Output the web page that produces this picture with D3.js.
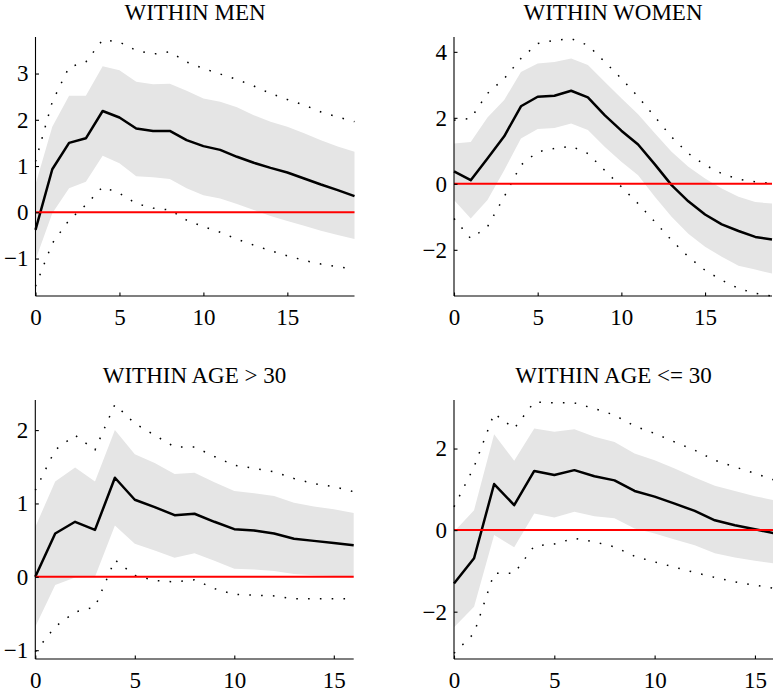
<!DOCTYPE html>
<html lang="en">
<head>
    <meta charset="UTF-8">
    <title>Impulse responses within groups</title>
    <script src="https://d3js.org/d3.v7.min.js"></script>
    <style>
        body {
            margin: 0;
            background: #ffffff;
        }
        svg {
            display: block;
        }
        svg text {
            font-family: "Liberation Serif", "Times New Roman", Times, serif;
            fill: #000;
        }
        .domain, .tick line {
            stroke: #000;
            stroke-width: 1.1;
        }
    </style>
</head>
<body>
    <svg id="chart" width="773" height="692"></svg>

    <script>
        // WITHIN MEN, horizons 0..19
        const menMid   = [-0.38, 0.93, 1.50, 1.60, 2.19, 2.05, 1.81, 1.76, 1.76, 1.56, 1.43, 1.35, 1.20, 1.07, 0.96, 0.86, 0.73, 0.60, 0.48, 0.35];
        const menBandHi = [0.60, 1.85, 2.52, 2.52, 3.16, 3.07, 2.82, 2.77, 2.78, 2.63, 2.46, 2.39, 2.27, 2.10, 1.96, 1.85, 1.71, 1.56, 1.42, 1.31];
        const menBandLo = [-1.03, -0.02, 0.52, 0.66, 1.22, 1.06, 0.78, 0.76, 0.72, 0.52, 0.37, 0.30, 0.18, 0.05, -0.08, -0.19, -0.29, -0.40, -0.49, -0.58];
        const menDotHi = [1.10, 2.39, 3.14, 3.25, 3.73, 3.68, 3.50, 3.42, 3.47, 3.25, 3.11, 2.99, 2.87, 2.73, 2.57, 2.44, 2.32, 2.17, 2.06, 1.96];
        const menDotLo = [-1.60, -0.67, -0.17, 0.16, 0.55, 0.41, 0.19, 0.09, 0.05, -0.17, -0.31, -0.43, -0.58, -0.71, -0.83, -0.94, -1.04, -1.12, -1.18, -1.22];

        // WITHIN WOMEN, horizons 0..19
        const womenMid   = [0.38, 0.11, 0.77, 1.44, 2.35, 2.64, 2.67, 2.82, 2.62, 2.08, 1.61, 1.19, 0.59, -0.04, -0.53, -0.93, -1.23, -1.43, -1.61, -1.69];
        const womenBandHi = [1.22, 1.27, 2.01, 2.54, 3.39, 3.65, 3.69, 3.80, 3.60, 3.09, 2.59, 2.11, 1.53, 0.97, 0.52, 0.16, -0.14, -0.39, -0.55, -0.60];
        const womenBandLo = [-0.49, -1.05, -0.49, 0.41, 1.37, 1.66, 1.69, 1.83, 1.63, 1.12, 0.67, 0.26, -0.39, -1.00, -1.51, -1.91, -2.21, -2.48, -2.60, -2.72];
        const womenDotHi = [1.93, 1.98, 2.74, 3.19, 3.80, 4.25, 4.35, 4.40, 4.20, 3.70, 3.19, 2.64, 2.03, 1.42, 0.92, 0.57, 0.31, 0.14, 0.06, 0.01];
        const womenDotLo = [-1.05, -1.66, -1.30, -0.39, 0.57, 0.97, 1.07, 1.14, 0.92, 0.41, -0.09, -0.60, -1.15, -1.71, -2.21, -2.62, -2.92, -3.17, -3.32, -3.40];

        // WITHIN AGE > 30, horizons 0..16
        const olderMid   = [0.00, 0.59, 0.75, 0.64, 1.35, 1.05, 0.95, 0.84, 0.86, 0.75, 0.65, 0.63, 0.59, 0.52, 0.49, 0.46, 0.43];
        const olderBandHi = [0.68, 1.30, 1.49, 1.30, 2.00, 1.67, 1.55, 1.40, 1.42, 1.29, 1.17, 1.14, 1.10, 1.01, 0.96, 0.92, 0.87];
        const olderBandLo = [-0.68, -0.11, -0.01, 0.00, 0.70, 0.45, 0.36, 0.26, 0.32, 0.22, 0.11, 0.10, 0.08, 0.04, 0.02, 0.01, -0.01];
        const olderDotHi = [1.18, 1.73, 1.93, 1.73, 2.35, 2.09, 1.93, 1.77, 1.77, 1.64, 1.52, 1.48, 1.43, 1.34, 1.27, 1.23, 1.16];
        const olderDotLo = [-1.02, -0.68, -0.48, -0.41, 0.23, 0.02, -0.05, -0.07, -0.04, -0.16, -0.24, -0.25, -0.26, -0.30, -0.30, -0.30, -0.30];

        // WITHIN AGE <= 30, horizons 0..16
        const youngMid   = [-1.31, -0.69, 1.13, 0.61, 1.45, 1.35, 1.47, 1.32, 1.22, 0.96, 0.82, 0.65, 0.47, 0.24, 0.12, 0.02, -0.08];
        const youngBandHi = [-0.04, 0.49, 2.35, 1.70, 2.49, 2.41, 2.47, 2.29, 2.16, 1.88, 1.71, 1.51, 1.29, 1.09, 0.96, 0.83, 0.73];
        const youngBandLo = [-2.38, -1.88, -0.12, -0.42, 0.41, 0.31, 0.45, 0.34, 0.29, 0.04, -0.08, -0.23, -0.37, -0.57, -0.67, -0.75, -0.82];
        const youngDotHi = [0.57, 1.55, 2.86, 2.49, 3.14, 3.12, 3.12, 2.98, 2.82, 2.55, 2.37, 2.16, 1.96, 1.71, 1.55, 1.39, 1.22];
        const youngDotLo = [-3.02, -2.53, -1.06, -1.06, -0.39, -0.34, -0.20, -0.29, -0.41, -0.64, -0.78, -0.91, -1.04, -1.16, -1.27, -1.35, -1.43];

        const titles = ["WITHIN MEN", "WITHIN WOMEN", "WITHIN AGE > 30", "WITHIN AGE <= 30"];
        const yTicks = [[-1, 0, 1, 2, 3], [-2, 0, 2, 4], [-1, 0, 1, 2], [-2, 0, 2]];
        const xTicks = [0, 5, 10, 15];

        const panels = [
            { title: titles[0], mid: menMid, hi: menBandHi, lo: menBandLo, dhi: menDotHi, dlo: menDotLo,
              xMax: 19, yDom: [-1.81, 3.79], left: 35.5, right: 354.5, top: 37, bottom: 296, yt: yTicks[0] },
            { title: titles[1], mid: womenMid, hi: womenBandHi, lo: womenBandLo, dhi: womenDotHi, dlo: womenDotLo,
              xMax: 19, yDom: [-3.4, 4.45], left: 454, right: 772, top: 37, bottom: 296, yt: yTicks[1] },
            { title: titles[2], mid: olderMid, hi: olderBandHi, lo: olderBandLo, dhi: olderDotHi, dlo: olderDotLo,
              xMax: 16, yDom: [-1.12, 2.41], left: 35.3, right: 353.7, top: 400, bottom: 659, yt: yTicks[2] },
            { title: titles[3], mid: youngMid, hi: youngBandHi, lo: youngBandLo, dhi: youngDotHi, dlo: youngDotLo,
              xMax: 16, yDom: [-3.16, 3.19], left: 454, right: 775, top: 400, bottom: 659, yt: yTicks[3] }
        ];

        const svg = d3.select("#chart");
        const fmt = d3.format("d");

        panels.forEach(p => {
            const x = d3.scaleLinear().domain([0, p.xMax]).range([p.left, p.right]);
            const y = d3.scaleLinear().domain(p.yDom).range([p.bottom, p.top]);
            const g = svg.append("g");

            // confidence band
            const area = d3.area()
                .x((d, i) => x(i))
                .y0((d, i) => y(p.lo[i]))
                .y1((d, i) => y(p.hi[i]));
            g.append("path")
                .datum(p.mid)
                .attr("d", area)
                .attr("fill", "#e5e5e5");

            const line = d3.line().x((d, i) => x(i)).y(d => y(d));

            // outer dotted bounds
            [p.dhi, p.dlo].forEach(s => {
                g.append("path")
                    .datum(s)
                    .attr("d", line)
                    .attr("fill", "none")
                    .attr("stroke", "#000")
                    .attr("stroke-width", 1.5)
                    .attr("stroke-dasharray", "1.6,10.2");
            });

            // point estimate
            g.append("path")
                .datum(p.mid)
                .attr("d", line)
                .attr("fill", "none")
                .attr("stroke", "#000")
                .attr("stroke-width", 2.5)
                .attr("stroke-linejoin", "round");

            // zero line
            g.append("line")
                .attr("x1", x(0)).attr("x2", x(p.xMax))
                .attr("y1", y(0)).attr("y2", y(0))
                .attr("stroke", "#ff0000")
                .attr("stroke-width", 2);

            // axes, ticks pointing inward like matlab
            const xa = g.append("g")
                .attr("transform", `translate(0,${p.bottom})`)
                .call(d3.axisBottom(x).tickValues(xTicks).tickFormat(fmt)
                    .tickSizeInner(-3.5).tickSizeOuter(0).tickPadding(13))
                .call(a => a.select(".domain").attr("d", `M${p.left},0H${p.right}`));

            const ya = g.append("g")
                .attr("transform", `translate(${p.left},0)`)
                .call(d3.axisLeft(y).tickValues(p.yt).tickFormat(fmt)
                    .tickSizeInner(-3.5).tickSizeOuter(0).tickPadding(7))
                .call(a => a.select(".domain").attr("d", `M0,${p.bottom}V${p.top}`));

            [xa, ya].forEach(a => a.attr("font-family", null).attr("font-size", 23));

            g.append("text")
                .attr("x", (p.left + Math.min(p.right, 773)) / 2)
                .attr("y", p.top - 17)
                .attr("text-anchor", "middle")
                .attr("font-size", 23)
                .text(p.title);
        });
    </script>
</body>
</html>
